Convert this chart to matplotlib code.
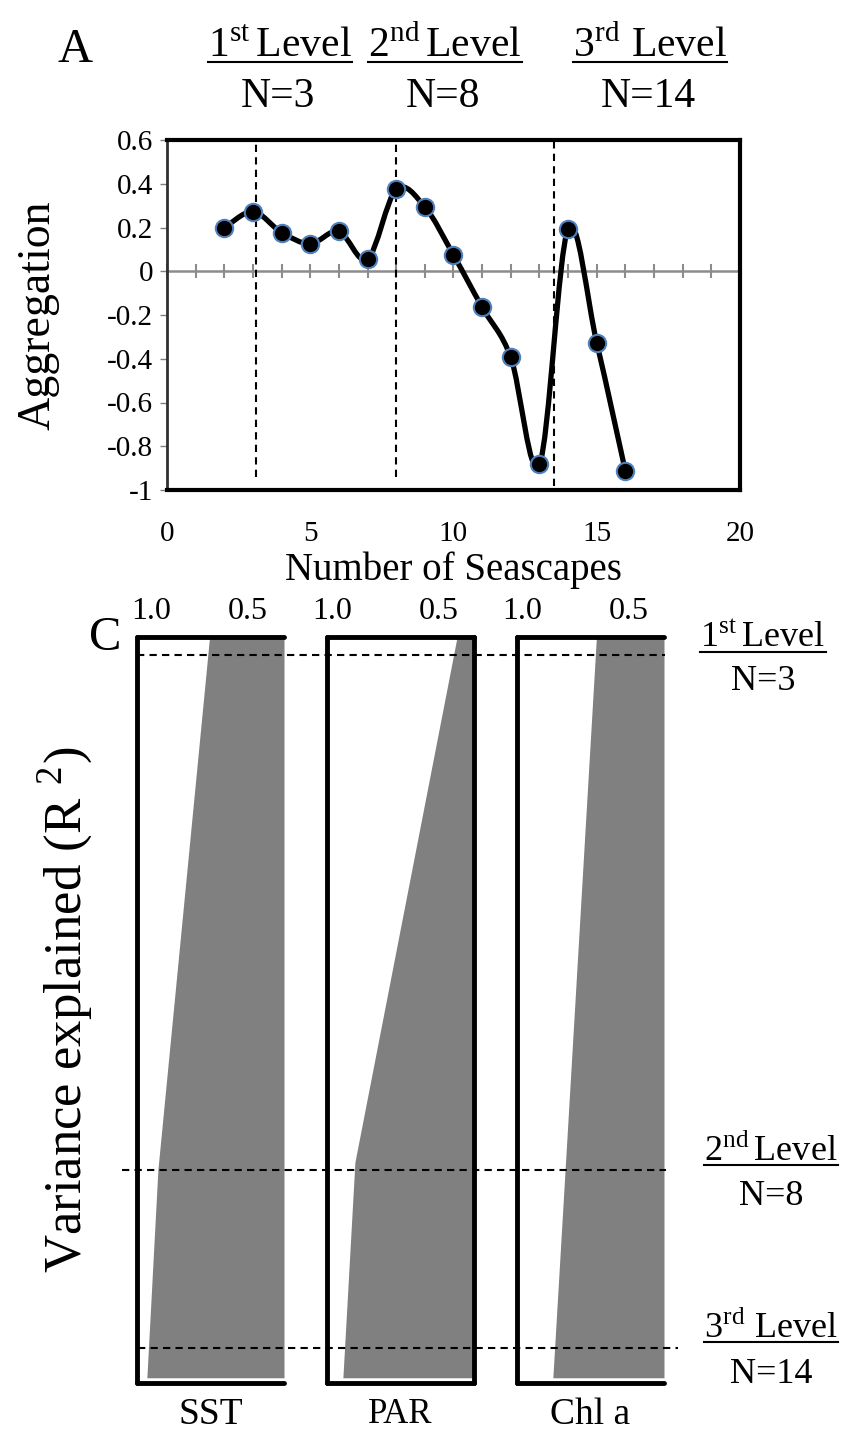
import numpy as np
import matplotlib
matplotlib.use('Agg')
import matplotlib.pyplot as plt
from matplotlib.path import Path
from matplotlib.patches import PathPatch
from matplotlib.lines import Line2D

plt.rcParams['font.family'] = ['Liberation Serif', 'DejaVu Serif']
plt.rcParams['mathtext.fontset'] = 'stix'

# ---------------- data: panel A ----------------
seascapes = [2, 3, 4, 5, 6, 7, 8, 9, 10, 11, 12, 13, 14, 15, 16]
aggregation = [0.197, 0.273, 0.177, 0.126, 0.182, 0.056, 0.374, 0.294,
               0.074, -0.165, -0.394, -0.883, 0.195, -0.327, -0.914]
level_names = ['1$^{\\mathregular{st}}\\,$Level',
               '2$^{\\mathregular{nd}}\\,$Level',
               '3$^{\\mathregular{rd}}$ Level']
level_n = ['N=3', 'N=8', 'N=14']
level_marks_a = [3.1, 8.0, 13.5]
level_marks_a_low = [-0.94, -0.94, -0.98]
x_ticks_a = [0, 5, 10, 15, 20]
minor_ticks_a = list(range(0, 21))
y_ticks_a = [-1, -0.8, -0.6, -0.4, -0.2, 0, 0.2, 0.4, 0.6]
y_tick_labels_a = ['-1', '-0.8', '-0.6', '-0.4', '-0.2', '0', '0.2', '0.4', '0.6']

# ---------------- data: panel C ----------------
variables = ['SST', 'PAR', 'Chl a']
depth_sst = [0.0, 0.714, 0.993]
r2_sst = [0.696, 0.963, 1.02]
depth_par = [0.0, 0.704, 0.993]
r2_par = [0.417, 0.893, 0.949]
depth_chl = [0.0, 0.993]
r2_chl = [0.653, 0.856]
level_depth_c = [0.024, 0.7145, 0.953]
r2_ticks = [1.0, 0.5]
r2_tick_labels = ['1.0', '0.5']

W, H = 845, 1439
fig = plt.figure(figsize=(W / 100, H / 100), dpi=100)


def fx(px):
    return px / W


def fy(py):
    return 1 - py / H


# ================= Panel A =================
ax = fig.add_axes([fx(167), fy(490), fx(740) - fx(167), fy(140) - fy(490)])
ax.set_xlim(0, 20)
ax.set_ylim(-1, 0.6)
for s in ['top', 'right', 'bottom']:
    ax.spines[s].set_linewidth(3)
    ax.spines[s].set_color('black')
ax.spines['left'].set_linewidth(2)
ax.spines['left'].set_color('#303030')

ax.set_xticks(x_ticks_a)
ax.set_xticklabels([str(v) for v in x_ticks_a])
ax.set_yticks(y_ticks_a)
ax.set_yticklabels(y_tick_labels_a)
ax.tick_params(axis='x', length=0, labelsize=21, pad=22)
ax.tick_params(axis='y', length=5, width=1, color='#808080', direction='out',
               labelsize=21, pad=5)

# zero axis line with gray ticks
ax.axhline(0, color='#8c8c8c', lw=1.8, zorder=1)
ax.plot(minor_ticks_a, np.zeros(len(minor_ticks_a)), ls='none', marker='|',
        ms=10, mew=1.5, color='#8c8c8c', zorder=1, clip_on=False)

# dashed level lines
ax.vlines(level_marks_a, level_marks_a_low, 0.6, colors='black',
          linestyles=(0, (3.5, 2.5)), lw=1.5, zorder=2)

# smoothed line (Bezier through the data points)
xs = np.array(seascapes, float)
ys = np.array(aggregation, float)
P = np.column_stack([xs, ys])
n = len(P)
verts = [P[0]]
codes = [Path.MOVETO]
for i in range(n - 1):
    p0 = P[i - 1] if i > 0 else P[i]
    p1 = P[i]
    p2 = P[i + 1]
    p3 = P[i + 2] if i + 2 < n else P[i + 1]
    c1 = p1 + (p2 - p0) / 6.0
    c2 = p2 - (p3 - p1) / 6.0
    verts += [c1, c2, p2]
    codes += [Path.CURVE4] * 3
ax.add_patch(PathPatch(Path(verts, codes), facecolor='none', edgecolor='black',
                       lw=3.8, zorder=3, capstyle='round', joinstyle='round'))
ax.plot(seascapes, aggregation, ls='none', marker='o', ms=12.5, mfc='black',
        mec='#4F81BD', mew=1.5, zorder=4)

fig.text(fx(75), fy(50), 'A', fontsize=35, ha='center', va='center')
fig.text(fx(38), fy(315), 'Aggregation', fontsize=33, rotation=90,
         ha='center', va='center')
fig.text(fx(453), fy(570), 'Number of Seascapes', fontsize=28,
         ha='center', va='center')

# headers of panel A
head_x = [280, 445, 650]
header_texts = []
for name, nlab, x in zip(level_names, level_n, head_x):
    t = fig.text(fx(x), fy(57), name, fontsize=30, ha='center', va='baseline')
    header_texts.append((t, 62))
    fig.text(fx(x - 2), fy(107), nlab, fontsize=30, ha='center', va='baseline')

# ================= Panel C =================
box_left = [137, 327, 517]
box_width = 147
xlims = [(1.071, 0.311), (1.023, 0.338), (1.023, 0.338)]
depths = [depth_sst, depth_par, depth_chl]
r2s = [r2_sst, r2_par, r2_chl]
label_sizes = [27, 25, 27]
box_top, box_bot = 637, 1383
for i, var in enumerate(variables):
    a = fig.add_axes([fx(box_left[i]), fy(box_bot), box_width / W,
                      fy(box_top) - fy(box_bot)])
    a.set_xlim(*xlims[i])
    a.set_ylim(1, 0)
    a.fill_betweenx(depths[i], r2s[i], xlims[i][1], color='#808080', lw=0,
                    zorder=1)
    for s in ['top', 'left', 'bottom', 'right']:
        a.spines[s].set_linewidth(3.5)
        a.spines[s].set_color('black')
        a.spines[s].set_capstyle('round')
    if var != 'PAR':
        a.spines['right'].set_visible(False)
    a.xaxis.tick_top()
    a.set_xticks(r2_ticks)
    a.set_xticklabels(r2_tick_labels)
    a.tick_params(axis='x', length=0, labelsize=23, pad=8)
    a.set_yticks([])
    a.text(0.5, -0.02, var, transform=a.transAxes, ha='center', va='top',
           fontsize=label_sizes[i])

# overlay for dashed level lines
ov = fig.add_axes([0, fy(box_bot), 1, fy(box_top) - fy(box_bot)])
ov.set_xlim(0, W)
ov.set_ylim(1, 0)
ov.axis('off')
line_x0 = [137, 122, 138]
line_x1 = [665, 666, 678]
for d, x0, x1 in zip(level_depth_c, line_x0, line_x1):
    ov.plot([x0, x1], [d, d], color='black', lw=1.5,
            linestyle=(0, (3.5, 2.5)))

fig.text(fx(105), fy(638), 'C', fontsize=35, ha='center', va='center')
fig.text(fx(65), fy(1010), 'Variance explained (R $^{\\mathregular{2}}$)',
         fontsize=38, rotation=90, ha='center', va='center')

right_x = [763, 771, 771]
right_base = [647, 1160, 1337]
right_n_base = [690, 1205, 1383]
for name, nlab, x, yb, yn in zip(level_names, level_n, right_x, right_base,
                                  right_n_base):
    t = fig.text(fx(x), fy(yb), name, fontsize=26, ha='center', va='baseline')
    header_texts.append((t, yb + 5))
    fig.text(fx(x), fy(yn), nlab, fontsize=26, ha='center', va='baseline')

# underlines
fig.canvas.draw()
r = fig.canvas.get_renderer()
for t, yline in header_texts:
    bb = t.get_window_extent(r)
    fig.add_artist(Line2D([bb.x0 / W, bb.x1 / W], [fy(yline), fy(yline)],
                          transform=fig.transFigure, color='black', lw=1.5))

fig.savefig('out.png', dpi=100)
